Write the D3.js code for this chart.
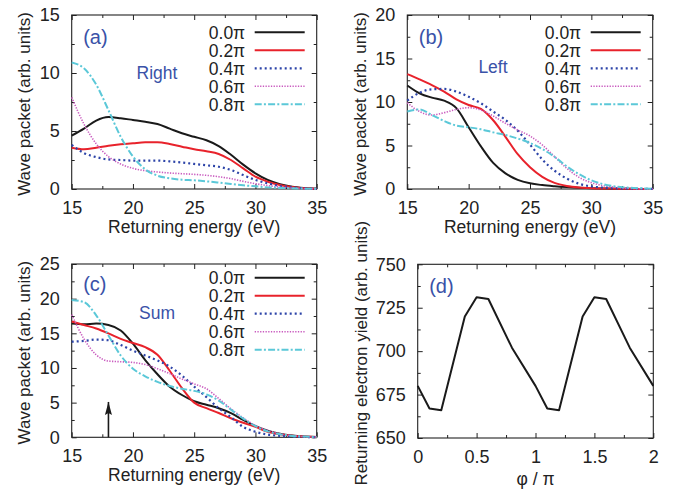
<!DOCTYPE html>
<html>
<head>
<meta charset="utf-8">
<script src="https://cdn.jsdelivr.net/npm/d3@7"></script>
<style>
  body { margin: 0; background: #fff; }
  text { font-family: "Liberation Sans", Arial, sans-serif; fill: #222; }
</style>
</head>
<body>
<script>
// returning energy grid (eV)
var energy = [15, 16, 17, 18, 19, 20, 21, 22, 23, 24, 25, 26, 27, 28, 29, 30, 31, 32, 33, 34, 35];
var phaseLabels = ["0.0\u03c0", "0.2\u03c0", "0.4\u03c0", "0.6\u03c0", "0.8\u03c0"];

// (a) right
var right00 = [4.6, 5.2, 5.9, 6.2, 6.1, 5.95, 5.8, 5.6, 5.2, 4.8, 4.5, 4.2, 3.7, 2.95, 2.1, 1.35, 0.78, 0.42, 0.2, 0.09, 0.03];
var right02 = [3.55, 3.42, 3.55, 3.72, 3.85, 3.94, 4.02, 4.02, 3.88, 3.65, 3.42, 3.25, 3.02, 2.5, 1.78, 1.06, 0.63, 0.34, 0.17, 0.06, 0.02];
var right04 = [3.8, 3.1, 2.75, 2.55, 2.5, 2.45, 2.45, 2.45, 2.38, 2.28, 2.16, 2.04, 1.92, 1.64, 1.2, 0.78, 0.49, 0.26, 0.14, 0.06, 0.02];
var right06 = [7.9, 5.6, 3.9, 2.8, 2.15, 1.78, 1.58, 1.47, 1.38, 1.32, 1.26, 1.18, 1.06, 0.89, 0.66, 0.46, 0.29, 0.17, 0.09, 0.03, 0.01];
var right08 = [10.9, 10.4, 9.0, 6.8, 4.5, 2.8, 1.7, 1.15, 0.92, 0.8, 0.75, 0.66, 0.55, 0.43, 0.32, 0.23, 0.14, 0.09, 0.06, 0.03, 0.01];

// (b) left
var left00 = [11.9, 11.0, 10.5, 10.15, 9.3, 7.1, 4.9, 3.0, 1.8, 1.05, 0.65, 0.45, 0.32, 0.22, 0.14, 0.08, 0.05, 0.03, 0.02, 0.01, 0];
var left02 = [13.2, 12.6, 11.95, 11.2, 10.3, 9.65, 9.2, 7.9, 6.0, 4.0, 2.5, 1.4, 0.7, 0.35, 0.18, 0.1, 0.06, 0.04, 0.02, 0.01, 0];
var left04 = [10.15, 11.07, 11.46, 11.5, 11.2, 10.6, 9.85, 8.9, 7.93, 6.7, 5.1, 3.4, 2.1, 1.2, 0.6, 0.3, 0.15, 0.08, 0.04, 0.02, 0.01];
var left06 = [9.92, 8.9, 8.5, 8.77, 9.15, 9.35, 9.08, 8.39, 7.55, 6.78, 6.09, 5.06, 3.72, 2.38, 1.34, 0.73, 0.38, 0.19, 0.08, 0.03, 0.01];
var left08 = [8.9, 9.15, 8.5, 7.82, 7.28, 7.09, 6.86, 6.51, 6.2, 5.8, 5.3, 4.6, 3.7, 2.6, 1.7, 1.0, 0.55, 0.28, 0.15, 0.08, 0.03];

// (c) sum
var sum00 = [16.4, 16.3, 16.4, 16.2, 15.4, 13.5, 11.15, 9.1, 7.3, 6.1, 5.2, 4.7, 4.2, 3.5, 2.5, 1.6, 0.95, 0.5, 0.25, 0.12, 0.05];
var sum02 = [16.7, 16.2, 15.7, 15.0, 14.2, 13.6, 13.0, 11.9, 9.6, 7.1, 5.0, 4.2, 3.5, 2.75, 2.1, 1.5, 0.8, 0.43, 0.22, 0.1, 0.05];
var sum04 = [13.8, 13.9, 14.1, 14.0, 13.3, 12.5, 11.8, 11.1, 10.2, 8.9, 7.3, 5.8, 4.2, 2.9, 1.5, 0.8, 0.4, 0.2, 0.1, 0.05, 0.02];
var sum06 = [17.7, 14.2, 11.9, 11.0, 10.9, 10.8, 10.5, 9.9, 9.2, 8.4, 7.7, 7.0, 5.6, 4.1, 2.8, 1.7, 1.0, 0.5, 0.22, 0.1, 0.03];
var sum08 = [19.8, 19.5, 17.6, 14.7, 11.8, 9.9, 8.8, 8.0, 7.4, 7.0, 6.7, 6.2, 5.3, 4.0, 2.7, 1.6, 0.85, 0.43, 0.2, 0.1, 0.03];

// (d) returning electron yield vs phase
var phi = [0, 0.1, 0.2, 0.4, 0.5, 0.6, 0.8, 1.0, 1.1, 1.2, 1.4, 1.5, 1.6, 1.8, 2.0];
var yieldVals = [680, 667, 666, 720, 731, 730, 702, 680, 667, 666, 720, 731, 730, 702, 680];

var arrowEnergy = 18, arrowTop = 5.1;

var styles = [
  { color: "#1a1a1a", width: 2, dash: null },
  { color: "#e8222b", width: 2, dash: null },
  { color: "#2d44a8", width: 2.2, dash: "2,3" },
  { color: "#c95bbf", width: 1.6, dash: "1.3,1.4" },
  { color: "#5bc8d8", width: 2, dash: "7,2.2,2,2.2" }
];
var labelBlue = "#3a52a8";

var svg = d3.select("body").append("svg")
  .attr("width", 679)
  .attr("height", 493);

svg.append("defs").append("marker")
  .attr("id", "head")
  .attr("viewBox", "0 0 13 7")
  .attr("refX", 13).attr("refY", 3.5)
  .attr("markerWidth", 13).attr("markerHeight", 7)
  .attr("markerUnits", "userSpaceOnUse")
  .attr("orient", "auto")
  .append("path")
  .attr("d", "M0,0 L13,3.5 L0,7 L2,3.5 Z")
  .attr("fill", "#1a1a1a");

function frame(cfg) {
  var g = svg.append("g");
  var x = d3.scaleLinear().domain(cfg.xd).range([cfg.x0, cfg.x1]);
  var y = d3.scaleLinear().domain(cfg.yd).range([cfg.y1, cfg.y0]);

  function ax(gen, scale, vals, size, labels, tr) {
    var a = gen(scale).tickValues(vals).tickSize(-size).tickPadding(labels ? cfg.pad : 0);
    if (!labels) a.tickFormat("");
    else a.tickFormat(cfg.fmt || d3.format("d"));
    var sel = g.append("g").attr("transform", tr).call(a);
    sel.select(".domain").remove();
    sel.selectAll("line").attr("stroke", "#222").attr("stroke-width", 1);
    sel.selectAll("text").style("font-size", "18px").attr("fill", "#222")
      .style("font-family", "'Liberation Sans', Arial, sans-serif");
    return sel;
  }
  var xMaj = d3.range(cfg.xd[0], cfg.xd[1] + 1e-9, cfg.xs);
  var xMin = d3.range(cfg.xd[0] + cfg.xs / 2, cfg.xd[1], cfg.xs);
  var yMaj = d3.range(cfg.yd[0], cfg.yd[1] + 1e-9, cfg.ys);
  var yMin = d3.range(cfg.yd[0] + cfg.ys / 2, cfg.yd[1], cfg.ys);

  ax(d3.axisBottom, x, xMaj, 5, true, "translate(0," + cfg.y1 + ")");
  ax(d3.axisBottom, x, xMin, 3, false, "translate(0," + cfg.y1 + ")");
  ax(d3.axisTop, x, xMaj, 5, false, "translate(0," + cfg.y0 + ")");
  ax(d3.axisTop, x, xMin, 3, false, "translate(0," + cfg.y0 + ")");
  ax(d3.axisLeft, y, yMaj, 5, true, "translate(" + cfg.x0 + ",0)");
  ax(d3.axisLeft, y, yMin, 3, false, "translate(" + cfg.x0 + ",0)");
  ax(d3.axisRight, y, yMaj, 5, false, "translate(" + cfg.x1 + ",0)");
  ax(d3.axisRight, y, yMin, 3, false, "translate(" + cfg.x1 + ",0)");

  g.append("rect")
    .attr("x", cfg.x0).attr("y", cfg.y0)
    .attr("width", cfg.x1 - cfg.x0).attr("height", cfg.y1 - cfg.y0)
    .attr("fill", "none").attr("stroke", "#222").attr("stroke-width", 1.1);

  // axis titles
  g.append("text")
    .attr("x", (cfg.x0 + cfg.x1) / 2).attr("y", cfg.y1 + cfg.xtOff)
    .attr("text-anchor", "middle").style("font-size", "17.5px")
    .text(cfg.xTitle);
  g.append("text")
    .attr("transform", "translate(" + (cfg.x0 - cfg.ytOff) + "," + ((cfg.y0 + cfg.y1) / 2 + 2) + ") rotate(-90)")
    .attr("text-anchor", "middle").style("font-size", "17px")
    .text(cfg.yTitle);

  // panel letter
  g.append("text")
    .attr("x", cfg.x0 + 11.5).attr("y", cfg.y0 + cfg.letterOff)
    .style("font-size", "20px").style("fill", labelBlue)
    .text(cfg.letter);

  return { g: g, x: x, y: y };
}

function wavePanel(cfg, series) {
  var p = frame(cfg);
  var line = d3.line()
    .x(function(d) { return p.x(d[0]); })
    .y(function(d) { return p.y(d[1]); })
    .curve(d3.curveMonotoneX);

  series.forEach(function(vals, i) {
    var st = styles[i];
    p.g.append("path")
      .datum(energy.map(function(e, k) { return [e, vals[k]]; }))
      .attr("d", line)
      .attr("fill", "none")
      .attr("stroke", st.color)
      .attr("stroke-width", st.width)
      .attr("stroke-dasharray", st.dash);
  });

  // legend
  phaseLabels.forEach(function(lab, i) {
    var yy = cfg.y0 + cfg.legOff + i * 18;
    var st = styles[i];
    p.g.append("text")
      .attr("x", cfg.x1 - 71.5).attr("y", yy + 6.3)
      .attr("text-anchor", "end").style("font-size", "17.5px")
      .text(lab);
    p.g.append("line")
      .attr("x1", cfg.x1 - 62).attr("x2", cfg.x1 - 12)
      .attr("y1", yy).attr("y2", yy)
      .attr("stroke", st.color)
      .attr("stroke-width", st.width)
      .attr("stroke-dasharray", st.dash);
  });

  p.g.append("text")
    .attr("x", cfg.tagX).attr("y", cfg.tagY)
    .attr("text-anchor", "middle").style("font-size", "17.5px")
    .style("fill", labelBlue)
    .text(cfg.tag);
  return p;
}

var eTitle = "Returning energy (eV)";
var wTitle = "Wave packet (arb. units)";

wavePanel({ x0: 71.7, x1: 316.7, y0: 15, y1: 189, xd: [15, 35], yd: [0, 15], xs: 5, ys: 5,
  pad: 12, xtOff: 44, ytOff: 42, xTitle: eTitle, yTitle: wTitle,
  letter: "(a)", letterOff: 29, legOff: 17.3, tag: "Right", tagX: 157, tagY: 79 },
  [right00, right02, right04, right06, right08]);

wavePanel({ x0: 407.3, x1: 652.7, y0: 15, y1: 189, xd: [15, 35], yd: [0, 20], xs: 5, ys: 5,
  pad: 12, xtOff: 44, ytOff: 41.5, xTitle: eTitle, yTitle: wTitle,
  letter: "(b)", letterOff: 29, legOff: 17.3, tag: "Left", tagX: 493, tagY: 73 },
  [left00, left02, left04, left06, left08]);

var pc = wavePanel({ x0: 71.7, x1: 316.7, y0: 264, y1: 437.3, xd: [15, 35], yd: [0, 25], xs: 5, ys: 5,
  pad: 12, xtOff: 44, ytOff: 42, xTitle: eTitle, yTitle: wTitle,
  letter: "(c)", letterOff: 27, legOff: 13.7, tag: "Sum", tagX: 157, tagY: 319 },
  [sum00, sum02, sum04, sum06, sum08]);

// arrow in (c)
pc.g.append("line")
  .attr("x1", pc.x(arrowEnergy)).attr("x2", pc.x(arrowEnergy))
  .attr("y1", pc.y(0)).attr("y2", pc.y(arrowTop))
  .attr("stroke", "#1a1a1a").attr("stroke-width", 1.6)
  .attr("marker-end", "url(#head)");

// (d)
var pd = frame({ x0: 417.7, x1: 653.3, y0: 264.3, y1: 438, xd: [0, 2], yd: [650, 750], xs: 0.5, ys: 25,
  pad: 12, xtOff: 47, ytOff: 51, xTitle: "\u03c6 / \u03c0", yTitle: "Returning electron yield (arb. units)",
  letter: "(d)", letterOff: 29, fmt: function(v) { return d3.format("")(+v.toFixed(1)); } });

pd.g.append("path")
  .datum(phi.map(function(p, k) { return [p, yieldVals[k]]; }))
  .attr("d", d3.line()
    .x(function(d) { return pd.x(d[0]); })
    .y(function(d) { return pd.y(d[1]); }))
  .attr("fill", "none")
  .attr("stroke", "#1a1a1a")
  .attr("stroke-width", 2)
  .attr("stroke-linejoin", "round");
</script>
</body>
</html>
